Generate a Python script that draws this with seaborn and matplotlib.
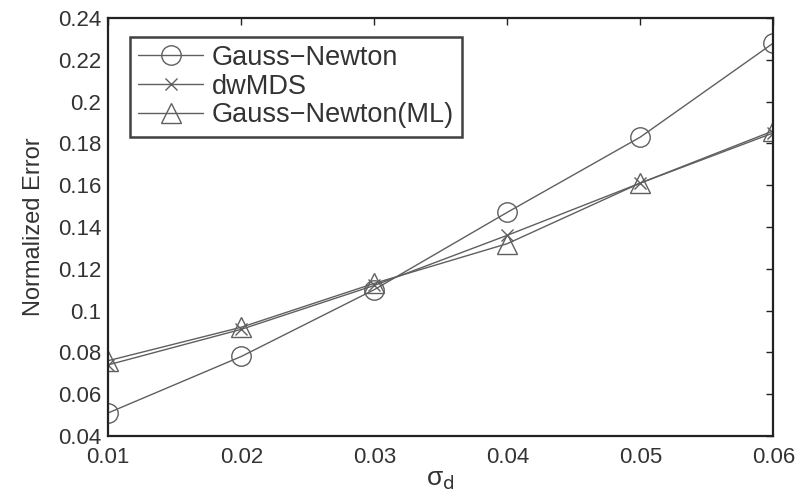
import numpy as np
import pandas as pd
import matplotlib
matplotlib.use('Agg')
import matplotlib.pyplot as plt
import seaborn as sns

# data
sigma_d = [0.01, 0.02, 0.03, 0.04, 0.05, 0.06]
gauss_newton = [0.051, 0.078, 0.110, 0.147, 0.183, 0.228]
dwmds = [0.074, 0.091, 0.112, 0.136, 0.161, 0.185]
gauss_newton_ml = [0.076, 0.092, 0.113, 0.132, 0.161, 0.186]

series_names = ['Gauss\u2212Newton', 'dwMDS', 'Gauss\u2212Newton(ML)']
series_markers = ['o', 'x', '^']
series_sizes = [14, 9, 15]

sns.set_theme(style='white')
plt.rcParams['font.family'] = ['Liberation Sans', 'DejaVu Sans']
plt.rcParams['mathtext.fontset'] = 'dejavusans'

df = pd.DataFrame({'x': sigma_d * 3,
                   'y': gauss_newton + dwmds + gauss_newton_ml,
                   'method': np.repeat(series_names, len(sigma_d))})

fig = plt.figure(figsize=(8.08, 5.01), dpi=100)
ax = fig.add_axes([0.134, 0.130, 0.823, 0.834])

line_col = '#5f5f5f'
for name, mk, ms in zip(series_names, series_markers, series_sizes):
    sub = df[df['method'] == name]
    sns.lineplot(data=sub, x='x', y='y', ax=ax, color=line_col, marker=mk,
                 markersize=ms, markerfacecolor='none', markeredgecolor=line_col,
                 markeredgewidth=1.0, linewidth=1.0, label=name)

ax.set_xlim(0.01, 0.06)
ax.set_ylim(0.04, 0.24)
ax.set_xticks(sigma_d)
ax.set_xticklabels(['0.01', '0.02', '0.03', '0.04', '0.05', '0.06'])
yt = np.arange(0.04, 0.2401, 0.02)
ax.set_yticks(yt)
ax.set_yticklabels(['0.04', '0.06', '0.08', '0.1', '0.12', '0.14', '0.16',
                    '0.18', '0.2', '0.22', '0.24'])
ax.tick_params(direction='in', length=5, width=1, top=True, right=True,
               labelsize=16, colors='#222222', labelcolor='#333333')
ax.tick_params(axis='y', pad=5)
ax.tick_params(axis='x', pad=8)
for s in ax.spines.values():
    s.set_color('#222222')
    s.set_linewidth(1.6)

ax.set_xlabel('\u03c3$_{\\rm d}$', fontsize=19, color='#333333', labelpad=0)
ax.set_ylabel('Normalized Error', fontsize=17, color='#333333', labelpad=9,
              fontstretch='condensed')

leg = ax.legend(loc='upper left', bbox_to_anchor=(0.033, 0.955), fontsize=19.5,
                frameon=True, fancybox=False, handlelength=2.4,
                borderpad=0.3, labelspacing=0.1, handletextpad=0.3,
                borderaxespad=0)
leg.get_frame().set_edgecolor('#111111')
leg.get_frame().set_linewidth(1.8)
for t in leg.get_texts():
    t.set_color('#333333')

fig.savefig('out.png', dpi=100)
